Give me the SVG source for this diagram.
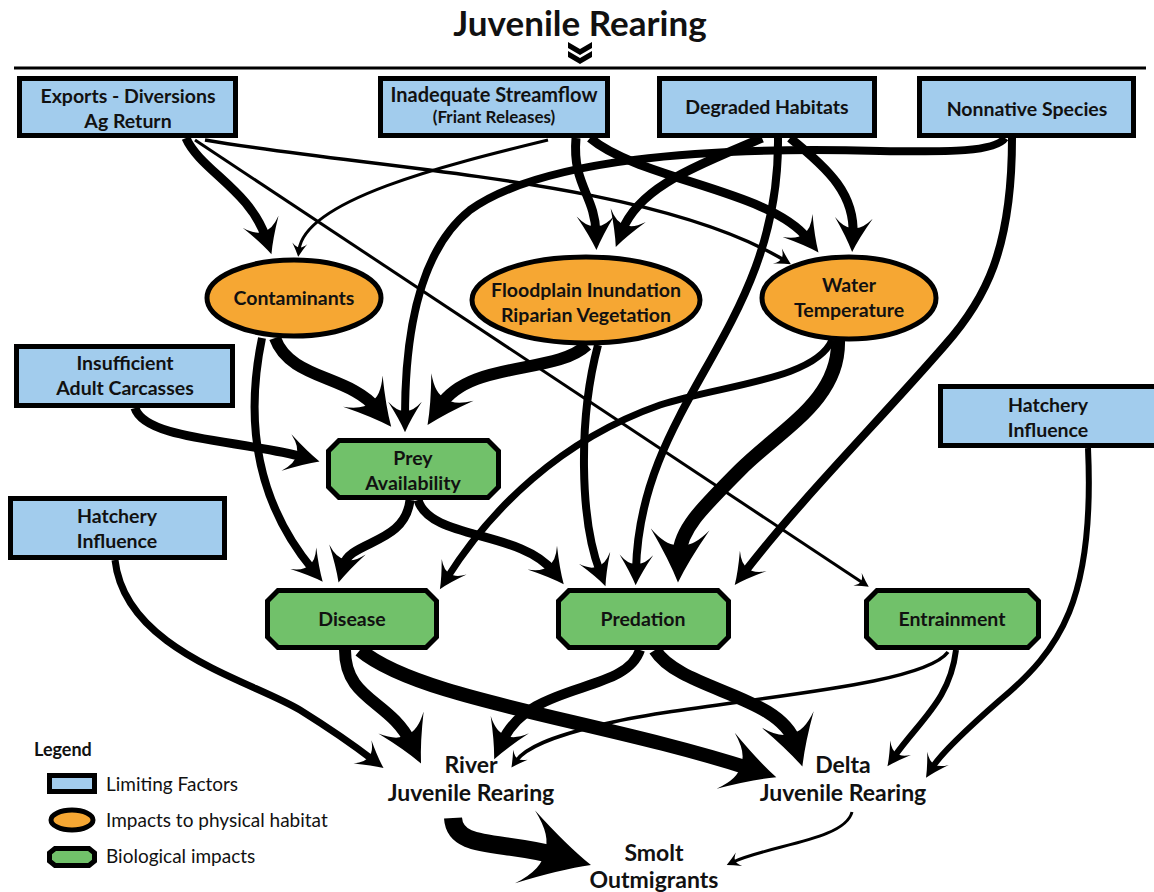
<svg xmlns="http://www.w3.org/2000/svg" width="1154" height="892" viewBox="0 0 1154 892">
<defs>
<style>
.box{fill:#a2cced;stroke:#000;stroke-width:5}
.ell{fill:#f6a733;stroke:#000;stroke-width:5}
.oct{fill:#71c16a;stroke:#000;stroke-width:5}
text{font-family:Lato,"Open Sans",sans-serif;fill:#111;text-anchor:middle}
.t{font-size:19.5px;font-weight:700}
.s{font-size:17px;font-weight:700}
.p{font-size:23px;font-weight:700}
.lg{font-size:19px;text-anchor:start}
.c path{fill:none;stroke:#000;stroke-linecap:butt}
</style>
<marker id="ah" markerUnits="strokeWidth" viewBox="-4 -2.2 4.2 4.4" refX="-1.9" refY="0" markerWidth="4.2" markerHeight="4.4" orient="auto" overflow="visible">
<path d="M0,0 Q-1.6,-0.7 -3.8,-2.1 Q-2.5,-0.9 -2.7,0 Q-2.5,0.9 -3.8,2.1 Q-1.6,0.7 0,0 Z" fill="#000"/>
</marker>
<marker id="at" markerUnits="strokeWidth" viewBox="-5 -3 5.2 6" refX="-2.3" refY="0" markerWidth="5.2" markerHeight="6" orient="auto" overflow="visible">
<path d="M0,0 Q-1.9,-0.9 -4.5,-2.5 Q-3,-1 -3.2,0 Q-3,1 -4.5,2.5 Q-1.9,0.9 0,0 Z" fill="#000"/>
</marker>
</defs>
<rect width="1154" height="892" fill="#fff"/>

<g id="title">
<text x="580" y="36" style="font-size:35px;font-weight:700">Juvenile Rearing</text>
<path d="M568,42 L580,49 L592,42 L592,48 L580,55 L568,48 Z M568,51 L580,58 L592,51 L592,57 L580,64 L568,57 Z" fill="#000"/>
<line x1="14" y1="68" x2="1146" y2="68" stroke="#000" stroke-width="3"/>
</g>

<g class="c" id="connectors">
<path d="M186,138 C200,170 250,190 266,238" stroke-width="9" marker-end="url(#ah)"/>
<path d="M195,140 L863,583" stroke-width="3" marker-end="url(#at)"/>
<path d="M205,140 C380,170 650,180 784,260" stroke-width="3.5" marker-end="url(#at)"/>
<path d="M548,140 C445,165 305,200 299,250" stroke-width="3" marker-end="url(#at)"/>
<path d="M576,138 C572,185 595,195 596,233" stroke-width="9" marker-end="url(#ah)"/>
<path d="M590,138 C640,180 770,190 808,239" stroke-width="9" marker-end="url(#ah)"/>
<path d="M762,138 C700,165 640,185 622,231" stroke-width="9" marker-end="url(#ah)"/>
<path d="M790,138 C830,170 855,195 853,235" stroke-width="9" marker-end="url(#ah)"/>
<path d="M778,138 C780,330 640,400 636,570" stroke-width="8" marker-end="url(#ah)"/>
<path d="M1005,138 C995,152 950,152 880,151 C700,146 540,160 470,210 C420,250 405,330 405,417" stroke-width="8" marker-end="url(#ah)"/>
<path d="M1012,138 C1012,250 985,300 945,345 C880,420 800,500 744,573" stroke-width="8" marker-end="url(#ah)"/>
<path d="M832,340 C815,380 720,385 660,405 C560,440 490,510 447,578" stroke-width="7" marker-end="url(#ah)"/>
<path d="M838,340 C840,400 780,430 740,470 C700,510 680,530 679,556" stroke-width="14" marker-end="url(#ah)"/>
<path d="M587,345 C555,375 470,360 440,406" stroke-width="12" marker-end="url(#ah)"/>
<path d="M598,345 C578,420 580,520 600,572" stroke-width="8" marker-end="url(#ah)"/>
<path d="M275,338 C290,380 350,375 377,409" stroke-width="12" marker-end="url(#ah)"/>
<path d="M262,338 C245,420 255,500 313,570" stroke-width="8" marker-end="url(#ah)"/>
<path d="M135,408 C145,440 240,440 303,457" stroke-width="9" marker-end="url(#ah)"/>
<path d="M410,500 C405,545 350,540 343,566" stroke-width="9" marker-end="url(#ah)"/>
<path d="M418,500 C430,540 520,530 553,571" stroke-width="9" marker-end="url(#ah)"/>
<path d="M115,560 C125,650 250,680 300,710 C340,735 360,750 373,760" stroke-width="7" marker-end="url(#ah)"/>
<path d="M1088,448 C1095,600 1060,650 1000,700 C960,735 940,755 932,768" stroke-width="6" marker-end="url(#ah)"/>
<path d="M345,650 C345,700 390,700 411,743" stroke-width="12" marker-end="url(#ah)"/>
<path d="M360,650 C420,700 600,720 751,769" stroke-width="14" marker-end="url(#ah)"/>
<path d="M640,650 C625,695 530,680 502,742" stroke-width="10" marker-end="url(#ah)"/>
<path d="M655,650 C680,690 780,695 795,743" stroke-width="13" marker-end="url(#ah)"/>
<path d="M948,652 C920,690 700,700 600,725 C550,737 525,748 516,761" stroke-width="3.5" marker-end="url(#at)"/>
<path d="M956,650 C950,700 920,720 894,757" stroke-width="6" marker-end="url(#ah)"/>
<path d="M453,818 C455,850 500,840 558,856" stroke-width="18" marker-end="url(#ah)"/>
<path d="M852,812 C845,840 770,845 733,862" stroke-width="3" marker-end="url(#at)"/>
</g>

<g id="exports"><rect class="box" x="19.5" y="78.5" width="216" height="57"/><text class="t" x="128" y="103">Exports - Diversions</text><text class="t" x="128" y="128">Ag Return</text></g>
<g id="streamflow"><rect class="box" x="380.5" y="78.5" width="227" height="57"/><text class="t" x="494" y="102" style="font-size:20px">Inadequate Streamflow</text><text class="s" x="494" y="123">(Friant Releases)</text></g>
<g id="degraded"><rect class="box" x="659.5" y="78.5" width="215" height="57"/><text class="t" x="767" y="114">Degraded Habitats</text></g>
<g id="nonnative"><rect class="box" x="919.5" y="78.5" width="214" height="57"/><text class="t" x="1027" y="116">Nonnative Species</text></g>
<g id="carcasses"><rect class="box" x="16.5" y="346.5" width="216" height="59"/><text class="t" x="125" y="370">Insufficient</text><text class="t" x="125" y="395">Adult Carcasses</text></g>
<g id="hatchery-left"><rect class="box" x="10.5" y="498.5" width="214" height="59"/><text class="t" x="117" y="523">Hatchery</text><text class="t" x="117" y="548">Influence</text></g>
<g id="hatchery-right"><rect class="box" x="940.5" y="386.5" width="218" height="59"/><text class="t" x="1048" y="412">Hatchery</text><text class="t" x="1048" y="437">Influence</text></g>

<g id="contaminants"><ellipse class="ell" cx="294" cy="298" rx="87" ry="38"/><text class="t" x="294" y="305">Contaminants</text></g>
<g id="floodplain"><ellipse class="ell" cx="586" cy="300" rx="114" ry="43"/><text class="t" x="586" y="297">Floodplain Inundation</text><text class="t" x="586" y="322">Riparian Vegetation</text></g>
<g id="watertemp"><ellipse class="ell" cx="849" cy="298" rx="87" ry="41"/><text class="t" x="849" y="292">Water</text><text class="t" x="849" y="317">Temperature</text></g>

<g id="prey"><path class="oct" d="M339,440.5 H488 L498.5,451 V487 L488,497.5 H339 L328.5,487 V451 Z"/><text class="t" x="413" y="465">Prey</text><text class="t" x="413" y="490">Availability</text></g>
<g id="disease"><path class="oct" d="M278,590.5 H426 L436.5,601 V637 L426,647.5 H278 L267.5,637 V601 Z"/><text class="t" x="352" y="626">Disease</text></g>
<g id="predation"><path class="oct" d="M569,590.5 H718 L728.5,601 V637 L718,647.5 H569 L558.5,637 V601 Z"/><text class="t" x="643" y="626">Predation</text></g>
<g id="entrainment"><path class="oct" d="M877,590.5 H1028 L1038.5,601 V637 L1028,647.5 H877 L866.5,637 V601 Z"/><text class="t" x="952" y="626">Entrainment</text></g>

<g id="river"><text class="p" x="471" y="773">River</text><text class="p" x="471" y="801">Juvenile Rearing</text></g>
<g id="delta"><text class="p" x="843" y="773">Delta</text><text class="p" x="843" y="801">Juvenile Rearing</text></g>
<g id="smolt"><text class="p" x="654" y="861">Smolt</text><text class="p" x="654" y="888">Outmigrants</text></g>

<g id="legend">
<text class="lg" x="34" y="756" style="font-weight:700;font-size:18px">Legend</text>
<rect x="49.5" y="775.5" width="45" height="16" style="fill:#a2cced;stroke:#000;stroke-width:5"/>
<text class="lg" x="106" y="791">Limiting Factors</text>
<ellipse cx="72" cy="820" rx="21" ry="10" style="fill:#f6a733;stroke:#000;stroke-width:5"/>
<text class="lg" x="106" y="827">Impacts to physical habitat</text>
<path d="M55,848.5 H89 L94.5,853 V861 L89,865.5 H55 L49.5,861 V853 Z" style="fill:#71c16a;stroke:#000;stroke-width:5"/>
<text class="lg" x="106" y="863">Biological impacts</text>
</g>
</svg>
